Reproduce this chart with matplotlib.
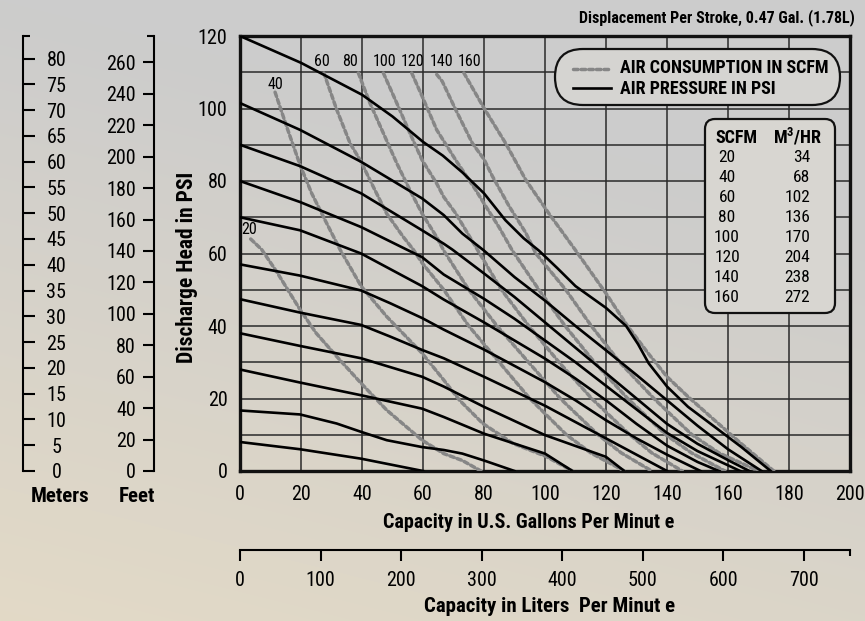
import numpy as np
import matplotlib
matplotlib.use("Agg")
import matplotlib.pyplot as plt
from matplotlib.patches import FancyBboxPatch

FONT = ['Roboto Condensed', 'Liberation Sans', 'DejaVu Sans']
plt.rcParams['font.family'] = FONT
plt.rcParams['mathtext.fontset'] = 'custom'
plt.rcParams['mathtext.rm'] = 'Roboto Condensed:bold'
plt.rcParams['mathtext.bf'] = 'Roboto Condensed:bold'

# ---------------- data ----------------
gpm_ticks = [0, 20, 40, 60, 80, 100, 120, 140, 160, 180, 200]
psi_ticks = [0, 20, 40, 60, 80, 100, 120]
psi_minor = [10, 30, 50, 70, 90, 110]
meter_ticks = [0, 5, 10, 15, 20, 25, 30, 35, 40, 45, 50, 55, 60, 65, 70, 75, 80]
feet_ticks = [0, 20, 40, 60, 80, 100, 120, 140, 160, 180, 200, 220, 240, 260]
liter_ticks = [0, 100, 200, 300, 400, 500, 600, 700]

# air pressure curves (PSI): capacity (GPM) vs discharge head (PSI)
p120_gpm = [0, 20, 40, 50, 60, 66.5, 73, 80, 87, 93, 98, 104, 110, 115, 120, 126.6, 130.5, 134, 140, 146.9, 155.6, 164.4, 174]
p120_psi = [120, 112.6, 103.8, 97.8, 90.8, 87, 82.3, 76.6, 69.2, 64.2, 60.8, 56, 51, 48, 45, 40, 35, 29.7, 23.3, 17.7, 12.2, 6.6, 0]
p100_gpm = [0, 19.7, 39.7, 59.7, 66.8, 72.9, 80, 90, 100, 105, 110, 120, 130, 140, 150, 160, 171]
p100_psi = [101.5, 94.1, 85.3, 75.2, 70.6, 65.5, 60.8, 53.5, 47, 43.5, 40, 33.3, 26.5, 19.5, 12.5, 6, 0]
p90_gpm = [0, 19.7, 39.7, 59.7, 66.8, 69.6, 80, 90, 100, 110, 120, 130, 140, 150, 160, 167]
p90_psi = [90, 84.1, 76.6, 66.4, 62.7, 61.1, 54.5, 48, 41, 34, 27, 20, 13, 7.5, 3, 0]
p80_gpm = [0, 19.7, 39.7, 54.6, 59.7, 66.8, 80, 90, 100, 110, 120, 130, 140, 150, 164]
p80_psi = [80, 74.2, 67.3, 61.1, 59, 54.2, 47.5, 42, 36, 30, 23.5, 17, 10.5, 5.5, 0]
p70_gpm = [0, 19.7, 39.7, 59.7, 66.8, 80, 90, 100, 110, 120, 130, 140, 150, 157]
p70_psi = [70, 66.4, 60, 51, 47.3, 41, 36, 31, 25.5, 19.5, 13, 7, 2.5, 0]
p60_gpm = [0, 19.7, 39.7, 49.2, 59.7, 66.8, 80, 90, 100, 110, 120, 130, 140, 151]
p60_psi = [57, 53.9, 49.8, 46.3, 42.2, 39, 33.5, 29, 24.5, 19.5, 14, 9, 4.5, 0]
p50_gpm = [0, 19.7, 39.7, 49.2, 59.7, 66.8, 80, 90, 100, 110, 120, 130, 140]
p50_psi = [47.4, 43.7, 40.3, 37.1, 33.4, 31.1, 26, 22, 18, 13.5, 9, 4.5, 0]
p40_gpm = [0, 19.7, 39.7, 59.7, 66.8, 80, 100, 120, 126]
p40_psi = [38, 34.5, 31.1, 26, 23.3, 17.7, 9.9, 3.9, 0]
p30_gpm = [0, 19.7, 39.7, 59.7, 66.8, 80, 100, 109]
p30_psi = [28, 24.4, 20.9, 17.2, 14.9, 10.3, 4.8, 0]
p20_gpm = [0, 19.7, 31.7, 39.7, 48.1, 59.7, 66.8, 72.9, 80, 90]
p20_psi = [16.7, 15.6, 13.1, 10.8, 8.5, 6.6, 5.8, 4.8, 2.9, 0]
p10_gpm = [0, 19.7, 39.7, 60]
p10_psi = [8, 6, 3.4, 0]

# air consumption curves (SCFM)
s20_gpm = [3.5, 7.1, 12, 19.7, 25, 31.7, 39.7, 48.1, 59.7, 66.8, 72.9, 79]
s20_psi = [64, 61.1, 55, 44.5, 38, 31.6, 24.2, 16.8, 8.5, 4.8, 2.9, 0]
s40_gpm = [11.5, 15.3, 19.7, 23.5, 27.9, 32.8, 39.7, 48.1, 59.7, 66.8, 72, 79.6, 89.5, 100.4, 109]
s40_psi = [104.5, 95, 84.4, 76.6, 69.2, 61.1, 51, 42.6, 32.5, 25.1, 19.5, 13.1, 7.6, 4, 0]
s60_gpm = [27.5, 31.7, 36.1, 39.7, 43.7, 48.1, 53.6, 56.8, 59.7, 66.8, 75, 85, 95, 107, 115, 126]
s60_psi = [109.8, 99.7, 90.4, 85.3, 78.4, 71, 64.5, 61.1, 57.4, 50, 40, 30, 20, 10, 5, 0]
s80_gpm = [38.8, 42.6, 47, 51.4, 55.7, 59.7, 64.5, 66.8, 75, 84.3, 94.6, 105, 117.4, 125, 135]
s80_psi = [109.8, 101.5, 93.2, 84.9, 77.5, 71, 64.5, 60.8, 50, 40, 30, 20, 10, 5, 0]
s100_gpm = [47, 51.4, 55.7, 59.7, 64.5, 66.8, 70.7, 77.3, 85.7, 94.7, 104.6, 115.3, 127.8, 135, 145]
s100_psi = [109.8, 101.5, 93.2, 85.8, 79.3, 75.6, 71.1, 61.8, 50, 40, 30, 20, 10, 5, 0]
s120_gpm = [56.3, 59.7, 64.5, 70.7, 77.3, 80, 84.9, 89.3, 98, 106.6, 116.2, 127.1, 139.6, 148, 159]
s120_psi = [109.8, 103.4, 94.1, 85.8, 77.5, 73.8, 67.3, 60.8, 50, 40, 30, 20, 10, 5, 0]
s140_gpm = [64.5, 66.3, 70.7, 76.2, 80, 82.7, 88.2, 93.7, 97, 106.8, 115.2, 124.5, 135.7, 148.2, 157, 170]
s140_psi = [109.4, 107.5, 99.7, 90.4, 86, 81.4, 73.1, 65.7, 60, 50, 40, 30, 20, 10, 5, 0]
s160_gpm = [73.4, 80, 87.1, 93.7, 101.3, 110, 120, 126.9, 133.8, 140, 146.9, 155.6, 164.4, 175]
s160_psi = [109.8, 100.1, 90.4, 80.3, 71, 60.9, 49, 40.2, 32.5, 26, 20.5, 14, 7.5, 0]

scfm_values = [20, 40, 60, 80, 100, 120, 140, 160]
m3hr_values = [34, 68, 102, 136, 170, 204, 238, 272]
scfm_label_gpm = [3.1, 11.6, 27.0, 36.2, 47.4, 56.6, 66.1, 75.2]
scfm_label_psi = [66.6, 106.5, 112.9, 112.9, 112.9, 112.9, 112.9, 112.9]

pressure_curves = [(p120_gpm, p120_psi), (p100_gpm, p100_psi), (p90_gpm, p90_psi),
                   (p80_gpm, p80_psi), (p70_gpm, p70_psi), (p60_gpm, p60_psi),
                   (p50_gpm, p50_psi), (p40_gpm, p40_psi), (p30_gpm, p30_psi),
                   (p20_gpm, p20_psi), (p10_gpm, p10_psi)]
scfm_curves = [(s20_gpm, s20_psi), (s40_gpm, s40_psi), (s60_gpm, s60_psi),
               (s80_gpm, s80_psi), (s100_gpm, s100_psi), (s120_gpm, s120_psi),
               (s140_gpm, s140_psi), (s160_gpm, s160_psi)]

PSI_TO_M = 0.70307
PSI_TO_FT = 2.3067
GPM_TO_L = 3.78541

# ---------------- figure ----------------
W, H = 865, 621
fig = plt.figure(figsize=(W / 100, H / 100), dpi=100)

# background gradient
bg = fig.add_axes([0, 0, 1, 1], zorder=-10)
yy, xx = np.mgrid[0:H, 0:W]
t = np.clip((yy / H) * 1.0 + (1 - xx / W) * 0.35 - 0.35, 0, 1)
grey = np.array([0.80, 0.80, 0.80])
beige = np.array([0.89, 0.855, 0.78])
img = grey[None, None, :] * (1 - t[..., None]) + beige[None, None, :] * t[..., None]
bg.imshow(img, aspect='auto', extent=[0, W, H, 0])
bg.set_xlim(0, W)
bg.set_ylim(H, 0)
bg.axis('off')


def fx(px):
    return px / W


def fy(py):
    return 1 - py / H


TICK_FS = 14.5
ax_left, ax_right, ax_top, ax_bot = 240, 850, 36, 471
ax = fig.add_axes([fx(ax_left), fy(ax_bot), (ax_right - ax_left) / W, (ax_bot - ax_top) / H])
ax.patch.set_alpha(0)
ax.set_xlim(0, 200)
ax.set_ylim(0, 120)
ax.set_xticks(gpm_ticks)
ax.set_yticks(psi_ticks)
ax.set_yticks(psi_minor, minor=True)
ax.grid(True, which='both', color='#2a2a2a', linewidth=1.1, zorder=1)
ax.tick_params(axis='both', which='both', length=0)
ax.tick_params(axis='x', pad=10, labelsize=TICK_FS)
ax.tick_params(axis='y', pad=9, labelsize=TICK_FS)
for s in ax.spines.values():
    s.set_linewidth(2.4)
    s.set_color('#111111')
ax.set_axisbelow(True)

for xs, ys in scfm_curves:
    ax.plot(xs, ys, color='#868686', linewidth=2.5, dashes=(1.3, 0.9),
            dash_capstyle='round', zorder=3)
for xs, ys in pressure_curves:
    ax.plot(xs, ys, color='black', linewidth=1.9, zorder=4, solid_joinstyle='round')

for v, gx, gy in zip(scfm_values, scfm_label_gpm, scfm_label_psi):
    ax.text(gx, gy, str(v), fontsize=11.5, ha='center', va='center', zorder=5)

# Meters axis
b = fy(ax_bot)
h = (ax_bot - ax_top) / H
ax_m = fig.add_axes([fx(23), b, 0.0001, h])
ax_m.patch.set_alpha(0)
for k, s in ax_m.spines.items():
    s.set_visible(k == 'right')
ax_m.spines['right'].set_linewidth(1.5)
ax_m.set_ylim(0, 120 * PSI_TO_M)
ax_m.set_xticks([])
ax_m.yaxis.set_ticks_position('right')
ax_m.set_yticks(meter_ticks)
ax_m.set_yticks([120 * PSI_TO_M], minor=True)
ax_m.set_yticklabels([str(v) for v in meter_ticks])
ax_m.tick_params(axis='y', which='major', direction='out', length=8.5, width=1.5, pad=15.5, labelsize=TICK_FS)
ax_m.tick_params(axis='y', which='minor', direction='out', length=5, width=1.5)
for lbl in ax_m.get_yticklabels():
    lbl.set_ha('center')

# Feet axis
ax_f = fig.add_axes([fx(154), b, 0.0001, h])
ax_f.patch.set_alpha(0)
for k, s in ax_f.spines.items():
    s.set_visible(k == 'left')
ax_f.spines['left'].set_linewidth(1.5)
ax_f.set_ylim(0, 120 * PSI_TO_FT)
ax_f.set_xticks([])
ax_f.set_yticks(feet_ticks)
ax_f.set_yticks([120 * PSI_TO_FT], minor=True)
ax_f.set_yticklabels([str(v) for v in feet_ticks])
ax_f.tick_params(axis='y', which='major', direction='out', length=8, width=1.5, pad=5, labelsize=TICK_FS)
ax_f.tick_params(axis='y', which='minor', direction='out', length=5, width=1.5)

# Liters axis
ax_l = fig.add_axes([fx(ax_left), fy(550), (ax_right - ax_left) / W, 0.0001])
ax_l.patch.set_alpha(0)
for k, s in ax_l.spines.items():
    s.set_visible(k == 'bottom')
ax_l.spines['bottom'].set_linewidth(1.5)
ax_l.set_xlim(0, 200 * GPM_TO_L)
ax_l.set_yticks([])
ax_l.set_xticks(liter_ticks)
ax_l.set_xticks([200 * GPM_TO_L], minor=True)
ax_l.set_xticklabels([str(v) for v in liter_ticks])
ax_l.tick_params(axis='x', which='major', direction='out', length=8, width=1.5, pad=7, labelsize=TICK_FS)
ax_l.tick_params(axis='x', which='minor', direction='out', length=4, width=1.5)

# overlay in pixel coordinates
ov = fig.add_axes([0, 0, 1, 1], zorder=20)
ov.set_xlim(0, W)
ov.set_ylim(H, 0)
ov.axis('off')
ov.patch.set_alpha(0)

ov.text(855, 18, 'Displacement Per Stroke, 0.47 Gal. (1.78L)', ha='right', va='center',
        fontsize=11.5, fontweight='bold')
ov.text(529, 522, 'Capacity in U.S. Gallons Per Minut e', ha='center', va='center',
        fontsize=14.5, fontweight='bold')
ov.text(550, 606, 'Capacity in Liters  Per Minut e', ha='center', va='center',
        fontsize=15, fontweight='bold')
ov.text(187, 267, 'Discharge Head in PSI', ha='center', va='center', rotation=90,
        fontsize=15.5, fontweight='bold')
ov.text(60, 497, 'Meters', ha='center', va='center', fontsize=15, fontweight='bold')
ov.text(137, 497, 'Feet', ha='center', va='center', fontsize=15, fontweight='bold')

# legend box
leg = FancyBboxPatch((555, 49), 285, 56, boxstyle='round,pad=0,rounding_size=28',
                     facecolor='#d5d4d1', edgecolor='#111111', linewidth=1.6, zorder=1)
ov.add_patch(leg)
ov.plot([573, 611], [69, 69], color='#868686', linewidth=2.5, dashes=(1.3, 0.9),
        dash_capstyle='round', zorder=2)
ov.plot([573, 611], [88, 88], color='black', linewidth=1.9, zorder=2)
ov.text(620, 68, 'AIR CONSUMPTION IN SCFM', ha='left', va='center', fontsize=13,
        fontweight='bold', zorder=3)
ov.text(620, 89, 'AIR PRESSURE IN PSI', ha='left', va='center', fontsize=13,
        fontweight='bold', zorder=3)

# table box
tab = FancyBboxPatch((705, 119), 130, 194, boxstyle='round,pad=0,rounding_size=10',
                     facecolor='#d8d6d1', edgecolor='#111111', linewidth=1.6, zorder=1)
ov.add_patch(tab)
ov.text(736, 138, 'SCFM', ha='center', va='center', fontsize=13, fontweight='bold', zorder=3)
ov.text(798, 137, 'M$^{3}$/HR', ha='center', va='center', fontsize=13, fontweight='bold', zorder=3)
for i, (sv, mv) in enumerate(zip(scfm_values, m3hr_values)):
    yy_ = 158 + 20 * i
    ov.text(727, yy_, str(sv), ha='center', va='center', fontsize=12.5, zorder=3)
    ov.text(810, yy_, str(mv), ha='right', va='center', fontsize=12.5, zorder=3)

fig.savefig('out.png', dpi=100)
